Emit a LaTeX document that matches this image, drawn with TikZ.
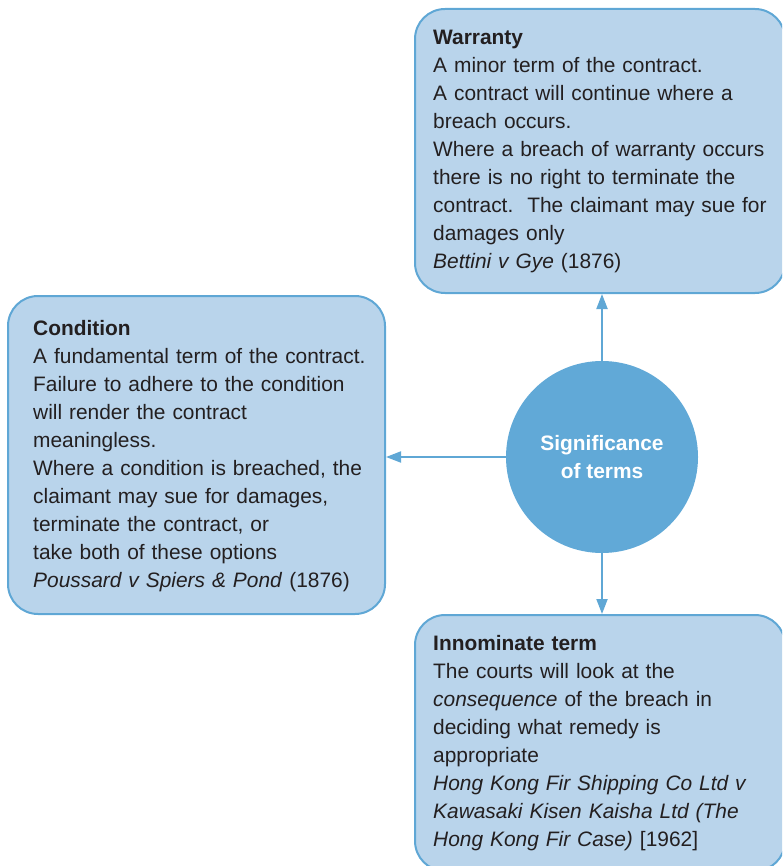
\documentclass[tikz,border=0pt]{standalone}
\usepackage{fontspec}
\setmainfont{Liberation Sans}
\usetikzlibrary{arrows.meta}
\definecolor{boxfill}{HTML}{B9D4EB}
\definecolor{boxline}{HTML}{5FA7D5}
\definecolor{hubfill}{HTML}{61A9D7}
\definecolor{ink}{HTML}{231F20}
\newcommand{\firstline}{\rule{0pt}{20pt}}
\tikzset{
  x=1pt, y=-1pt,
  termbox/.style={draw=boxline, fill=boxfill, line width=2pt, rounded corners=30pt,
    anchor=north west, inner sep=0pt},
  termtext/.style={anchor=north west, inner sep=0pt, text=ink, text width=370pt, align=left,
    font=\fontsize{20.9}{28}\selectfont},
  hub/.style={circle, fill=hubfill, minimum size=192pt, inner sep=0pt, text=white,
    align=center, font=\fontsize{20.9}{28}\selectfont\bfseries},
  link/.style={draw=boxline, line width=2pt, -{Triangle[length=15pt, width=11pt]}}
}
\begin{document}
\begin{tikzpicture}
\useasboundingbox (0,0) rectangle (782,866);
\begin{scope}
\clip (0,0) rectangle (782,866);
% the three kinds of term
\node[termbox, minimum width=370pt, minimum height=284pt] (warranty) at (414,8) {};
\node[termbox, minimum width=377pt, minimum height=318pt] (condition) at (7,295) {};
\node[termbox, minimum width=370pt, minimum height=256pt] (innominate) at (414,614) {};
\end{scope}

\node[termtext] (wtext) at (433,24) {\firstline\textbf{Warranty}\\
A minor term of the contract.\\
A contract will continue where a\\
breach occurs.\\
Where a breach of warranty occurs\\
there is no right to terminate the\\
contract.\ \ The claimant may sue for\\
damages only\\
\textit{Bettini v Gye} (1876)};

\node[termtext] (ctext) at (33,315) {\firstline\textbf{Condition}\\
A fundamental term of the contract.\\
Failure to adhere to the condition\\
will render the contract\\
meaningless.\\
Where a condition is breached, the\\
claimant may sue for damages,\\
terminate the contract, or\\
take both of these options\\
\textit{Poussard v Spiers \& Pond} (1876)};

\node[termtext] (itext) at (433,630) {\firstline\textbf{Innominate term}\\
The courts will look at the\\
\textit{consequence} of the breach in\\
deciding what remedy is\\
appropriate\\
\textit{Hong Kong Fir Shipping Co Ltd v}\\
\textit{Kawasaki Kisen Kaisha Ltd (The}\\
\textit{Hong Kong Fir Case)} [1962]};

% central hub
\node[hub] (hub) at (602,457) {Significance\\of terms};

% connectors
\draw[link] (hub.north) -- (hub.north |- warranty.south);
\draw[link] (hub.west) -- (condition.east |- hub.west);
\draw[link] (hub.south) -- (hub.south |- innominate.north);
\end{tikzpicture}
\end{document}
